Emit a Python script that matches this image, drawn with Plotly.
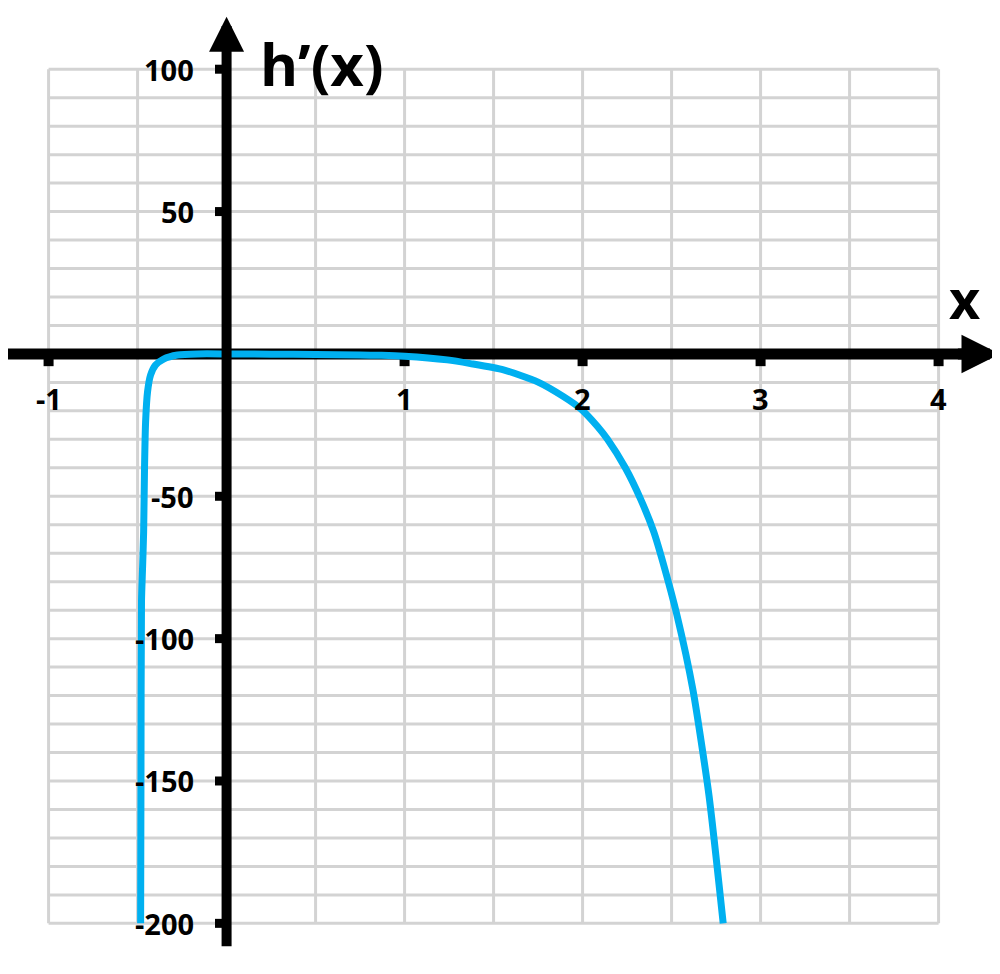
import plotly.graph_objects as go

# values
curve_x = [-0.483, -0.481, -0.478, -0.472, -0.466, -0.461, -0.455, -0.444, -0.427, -0.399,
           -0.354, -0.275, -0.163, 0.0, 0.25, 0.5, 0.75, 0.87, 1.0, 1.24, 1.37, 1.556, 1.747,
           1.893, 1.99, 2.084, 2.14, 2.24, 2.326, 2.40, 2.455, 2.53, 2.62, 2.71, 2.79]
curve_y = [-200, -150, -87, -75, -62.5, -40, -24, -13.3, -7.4, -3.9,
           -1.8, -0.4, 0, 0, -0.1, -0.2, -0.4, -0.5, -0.8, -2.1, -3.4, -5.6, -9.8,
           -15, -19.3, -25.5, -30, -40, -51, -62.5, -74, -91.7, -118, -155, -200]

x_ticks = [-1, 1, 2, 3, 4]
y_ticks = [100, 50, -50, -100, -150, -200]
x_grid = [-1, -0.5, 0, 0.5, 1, 1.5, 2, 2.5, 3, 3.5, 4]
y_grid = list(range(-200, 101, 10))

BLUE = '#00B0F0'
FONT = 'Open Sans'

fig = go.Figure()

# grid
gx, gy = [], []
for v in x_grid:
    gx += [v, v, None]
    gy += [y_grid[0], y_grid[-1], None]
for v in y_grid:
    gx += [x_grid[0], x_grid[-1], None]
    gy += [v, v, None]
fig.add_trace(go.Scatter(x=gx, y=gy, mode='lines', line=dict(color='#d3d3d3', width=3),
                         hoverinfo='skip'))

# x axis line (under the curve)
fig.add_trace(go.Scatter(x=[-1.247, 4.2], y=[0, 0], mode='lines',
                         line=dict(color='black', width=11), hoverinfo='skip'))

# tick marks
tx, ty = [], []
for v in x_ticks:
    tx += [v, v, None]
    ty += [0, -4.3, None]
fig.add_trace(go.Scatter(x=tx, y=ty, mode='lines', line=dict(color='black', width=10),
                         hoverinfo='skip'))
tx, ty = [], []
for v in y_ticks:
    tx += [-0.065, 0, None]
    ty += [v, v, None]
fig.add_trace(go.Scatter(x=tx, y=ty, mode='lines', line=dict(color='black', width=9),
                         hoverinfo='skip'))

# h'(x)
fig.add_trace(go.Scatter(x=curve_x, y=curve_y, mode='lines',
                         line=dict(color=BLUE, width=7, shape='spline', smoothing=0.6),
                         name="h'(x)"))

# y axis with arrow, x arrow head
fig.add_annotation(x=0, y=118.4, ax=0, ay=-208.6, axref='x', ayref='y', xref='x', yref='y',
                   text='', showarrow=True, arrowhead=2, arrowsize=0.7, arrowwidth=10,
                   arrowcolor='black')
fig.add_annotation(x=4.345, y=0, ax=4.1, ay=0, axref='x', ayref='y', xref='x', yref='y',
                   text='', showarrow=True, arrowhead=2, arrowsize=0.7, arrowwidth=11,
                   arrowcolor='black')

for v in x_ticks:
    fig.add_annotation(x=v, y=-15.8, text='<b>%d</b>' % v, showarrow=False,
                       font=dict(family=FONT, size=29, color='black'))
for v in y_ticks:
    fig.add_annotation(x=-0.174, y=v, text='<b>%d</b>' % v, showarrow=False, xanchor='right',
                       font=dict(family=FONT, size=29, color='black'))

fig.add_annotation(x=0.534, y=101.9, text='<b>h’(x)</b>', showarrow=False,
                   font=dict(family=FONT, size=58, color='black'))
fig.add_annotation(x=4.146, y=19.5, text='<b>x</b>', showarrow=False,
                   font=dict(family=FONT, size=54, color='black'))

fig.update_xaxes(range=[-1.228, 4.390], visible=False)
fig.update_yaxes(range=[-220.6, 121.5], visible=False)
fig.update_layout(width=1000, height=974, margin=dict(l=0, r=0, t=0, b=0),
                  paper_bgcolor='white', plot_bgcolor='white', showlegend=False)

fig.write_html("out.html")
